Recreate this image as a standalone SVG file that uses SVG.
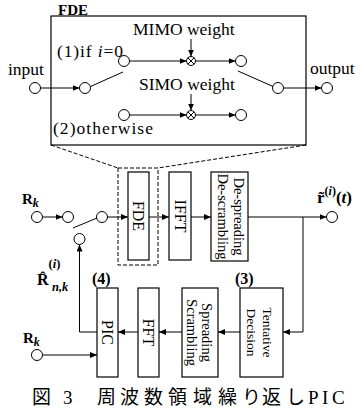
<svg xmlns="http://www.w3.org/2000/svg" width="361" height="414" viewBox="0 0 361 414">
<defs>
<marker id="ah" markerWidth="7" markerHeight="6" refX="7" refY="3" orient="auto" markerUnits="userSpaceOnUse"><path d="M0,0 L7,3 L0,6 z" fill="#000"/></marker>
<style>
.t{font-family:"Liberation Serif","Times New Roman",serif;fill:#000}
.cj{font-family:"Liberation Serif","Noto Sans CJK JP",serif;fill:#000}
.box{fill:#fff;stroke:#000;stroke-width:1.2}
.c{fill:#fff;stroke:#000;stroke-width:1}
.ln{fill:none;stroke:#000;stroke-width:1}
.ar{fill:none;stroke:#000;stroke-width:1;marker-end:url(#ah)}
.dash{fill:none;stroke:#000;stroke-width:1;stroke-dasharray:4 2}
.lb{font-size:17.5px}
.bx{font-size:16px}
.bx2{font-size:14.5px}
</style>
</defs>
<rect width="361" height="414" fill="#fff"/>

<g id="fde-detail">
<rect x="51" y="16" width="255" height="129" fill="none" stroke="#000" stroke-width="1.2"/>
<text class="t" x="58" y="15" font-size="15" font-weight="bold">FDE</text>
</g>

<g id="connectors">
<line class="ar" x1="40.5" y1="88" x2="79.5" y2="88"/>
<line class="ln" x1="90.5" y1="86.5" x2="123" y2="72"/>
<line class="ar" x1="129.5" y1="61" x2="186.5" y2="61"/>
<line class="ar" x1="129.5" y1="115" x2="186.5" y2="115"/>
<line class="ar" x1="195.5" y1="61" x2="235.5" y2="61"/>
<line class="ar" x1="195.5" y1="115" x2="235.5" y2="115"/>
<line class="ar" x1="191" y1="39" x2="191" y2="56.5"/>
<line class="ar" x1="191" y1="94" x2="191" y2="110.5"/>
<line class="ln" x1="238" y1="71" x2="273" y2="86.5"/>
<line class="ar" x1="283.5" y1="88" x2="321.5" y2="88"/>
<line class="dash" x1="51" y1="145" x2="118" y2="168"/>
<line class="dash" x1="306" y1="145" x2="158" y2="168"/>
<line class="ar" x1="42.5" y1="217" x2="62.5" y2="217"/>
<line class="ln" x1="73" y1="228" x2="97" y2="218"/>
<line class="ar" x1="107.5" y1="217" x2="128" y2="217"/>
<line class="ar" x1="149" y1="217" x2="169" y2="217"/>
<line class="ar" x1="191" y1="217" x2="211" y2="217"/>
<line class="ar" x1="248" y1="217" x2="326.5" y2="217"/>
<polyline class="ar" points="303,217 303,332 283,332"/>
<line class="ar" x1="240" y1="332" x2="218" y2="332"/>
<line class="ar" x1="182" y1="332" x2="159" y2="332"/>
<line class="ar" x1="138" y1="332" x2="118" y2="332"/>
<polyline class="ar" points="97,332 79.5,332 79.5,244.5"/>
<line class="ar" x1="42.5" y1="355" x2="97" y2="355"/>
</g>

<g id="input">
<circle class="c" cx="35" cy="88" r="5.5"/>
<text class="t lb" x="8" y="75">input</text>
</g>
<g id="switch-in">
<circle class="c" cx="85" cy="88" r="5.5"/>
<circle class="c" cx="124" cy="61" r="5.5"/>
<circle class="c" cx="124" cy="115" r="5.5"/>
<text class="t lb" x="57" y="57" textLength="66" lengthAdjust="spacing">(1)if <tspan font-style="italic">i</tspan>=0</text>
<text class="t lb" x="53" y="134" textLength="100" lengthAdjust="spacing">(2)otherwise</text>
</g>
<g id="mimo-weight">
<text class="t lb" x="133" y="35">MIMO weight</text>
<circle class="c" cx="191" cy="61" r="4.5"/>
<path class="ln" d="M187.8,57.8 L194.2,64.2 M194.2,57.8 L187.8,64.2"/>
</g>
<g id="simo-weight">
<text class="t lb" x="139" y="90">SIMO weight</text>
<circle class="c" cx="191" cy="115" r="4.5"/>
<path class="ln" d="M187.8,111.8 L194.2,118.2 M194.2,111.8 L187.8,118.2"/>
</g>
<g id="switch-out">
<circle class="c" cx="241" cy="61" r="5.5"/>
<circle class="c" cx="241" cy="115" r="5.5"/>
<circle class="c" cx="278" cy="88" r="5.5"/>
</g>
<g id="output">
<circle class="c" cx="327" cy="88" r="5.5"/>
<text class="t lb" x="310" y="74">output</text>
</g>

<g id="rk-top">
<circle class="c" cx="37" cy="217" r="5.5"/>
<text class="t" x="22" y="204" font-size="15" font-weight="bold">R<tspan font-size="12" font-style="italic" dy="3">k</tspan></text>
</g>
<g id="switch-main">
<circle class="c" cx="68" cy="217" r="5.5"/>
<circle class="c" cx="102" cy="217" r="5.5"/>
<circle class="c" cx="79.5" cy="239" r="5.5"/>
</g>
<g id="rhat-label">
<text class="t" x="37" y="285" font-size="16" font-weight="bold">R̂<tspan font-size="12.5" dy="-17">(<tspan font-style="italic">i</tspan>)</tspan><tspan x="52" y="291" font-size="12.5" font-style="italic">n,k</tspan></text>
</g>

<g id="fde-block">
<rect x="118" y="168" width="40" height="97" class="dash"/>
<rect class="box" x="128" y="172" width="21" height="88"/>
<text class="t bx" transform="translate(138.5,216) rotate(90)" text-anchor="middle" y="5.3">FDE</text>
</g>
<g id="ifft">
<rect class="box" x="169" y="172" width="22" height="88"/>
<text class="t bx" transform="translate(180,216) rotate(90)" text-anchor="middle" y="5.3">IFFT</text>
</g>
<g id="despreading">
<rect class="box" x="211" y="172" width="37" height="89"/>
<text class="t bx2" transform="translate(229.5,216.5) rotate(90)" text-anchor="middle"><tspan x="0" y="-4.5">De-spreading</tspan><tspan x="0" y="12">De-scrambling</tspan></text>
</g>
<g id="r-tilde">
<circle class="c" cx="332" cy="217" r="5.5"/>
<text class="t" x="317" y="203" font-size="17" font-weight="bold">r̃<tspan font-size="12" dy="-8">(<tspan font-style="italic">i</tspan>)</tspan><tspan dy="8">(<tspan font-style="italic">t</tspan>)</tspan></text>
</g>
<g id="tentative">
<rect class="box" x="240" y="288" width="43" height="89"/>
<text class="t" font-size="13.5" transform="translate(261.5,332.5) rotate(90)" text-anchor="middle"><tspan x="0" y="-1.2">Tentative</tspan><tspan x="0" y="14.5">Decision</tspan></text>
<text class="t" x="235" y="284" font-size="16" font-weight="bold">(3)</text>
</g>
<g id="spreading">
<rect class="box" x="182" y="288" width="36" height="89"/>
<text class="t bx2" transform="translate(200,332.5) rotate(90)" text-anchor="middle"><tspan x="0" y="-2">Spreading</tspan><tspan x="0" y="13">Scrambling</tspan></text>
</g>
<g id="fft">
<rect class="box" x="138" y="288" width="21" height="89"/>
<text class="t bx" transform="translate(148.5,332.5) rotate(90)" text-anchor="middle" y="5.3">FFT</text>
</g>
<g id="pic">
<rect class="box" x="97" y="288" width="21" height="89"/>
<text class="t bx" transform="translate(107.5,332.5) rotate(90)" text-anchor="middle" y="5.3">PIC</text>
<text class="t" x="92" y="284" font-size="16" font-weight="bold">(4)</text>
</g>
<g id="rk-bottom">
<circle class="c" cx="37" cy="355" r="5.5"/>
<text class="t" x="23" y="343" font-size="15" font-weight="bold">R<tspan font-size="12" font-style="italic" dy="3">k</tspan></text>
</g>

<g id="caption">
<text class="cj" font-size="19" y="404" x="32 50 63 73 97 120 144 168 193 218 242 262 286 300 308 322 332">図 3 周波数領域繰り返し PIC</text>
</g>
</svg>
